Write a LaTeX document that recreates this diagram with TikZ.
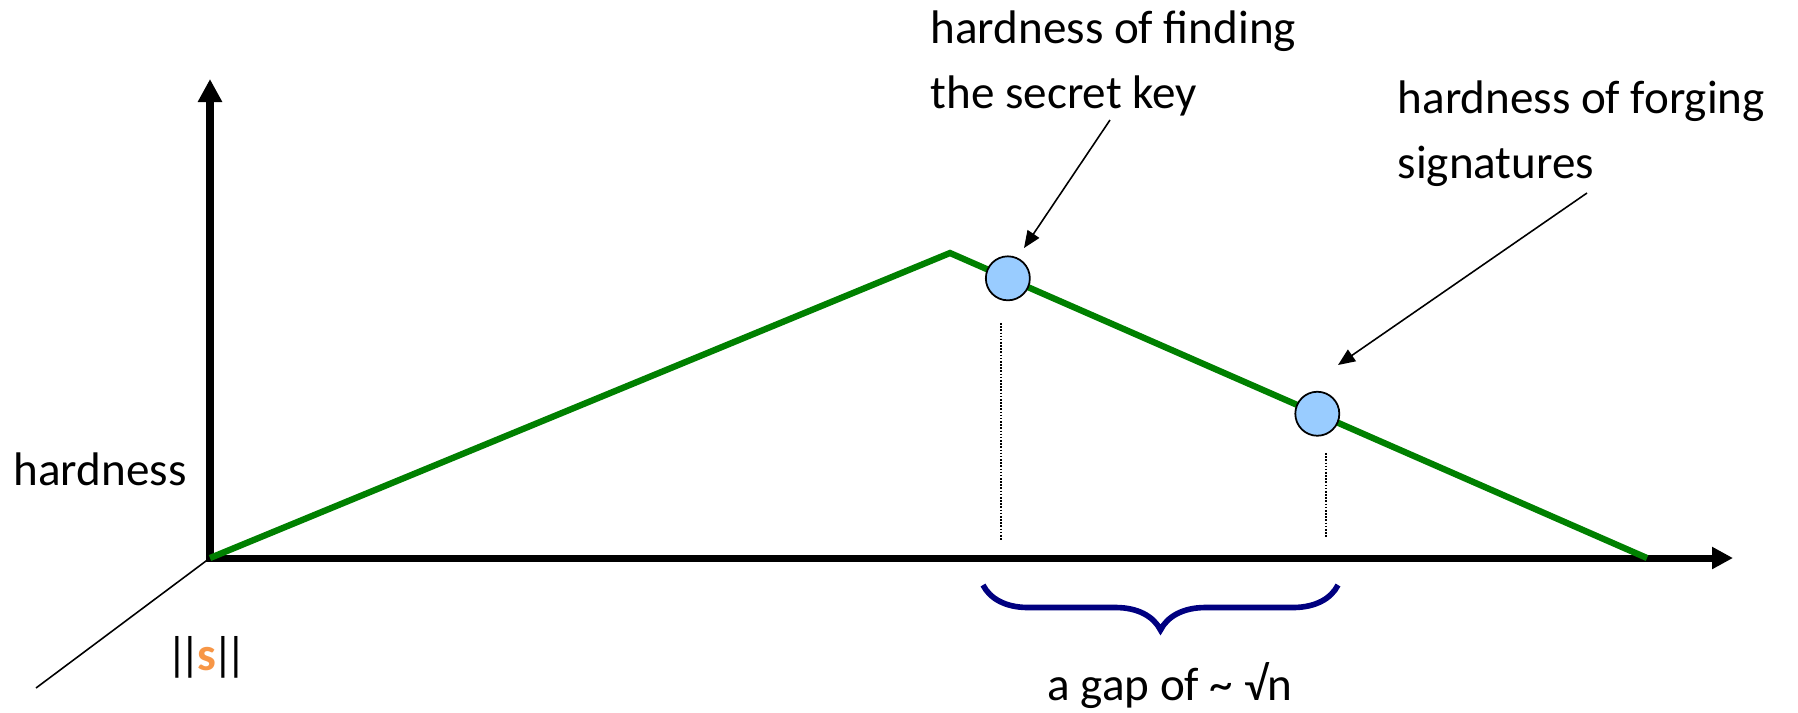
\documentclass[tikz,border=0pt]{standalone}
\usepackage{fontspec}
\setmainfont{Carlito}
\usetikzlibrary{arrows.meta, calc, decorations.pathreplacing, positioning}
\definecolor{ridgegreen}{RGB}{0,128,0}
\definecolor{probeblue}{RGB}{153,204,255}
\definecolor{bracenavy}{RGB}{0,0,128}
\definecolor{normorange}{RGB}{247,150,70}
\newcommand{\normbar}{\makebox[0.13cm]{|}}
\tikzset{
  axis/.style={line width=2pt, {Triangle[length=0.23cm,width=0.23cm]}-{Triangle[length=0.21cm,width=0.21cm]}},
  ridge/.style={line width=1.8pt, draw=ridgegreen},
  probe/.style={circle, draw=black, line width=0.5pt, fill=probeblue, minimum size=0.44cm, inner sep=0pt},
  guide/.style={line width=0.45pt, dash pattern=on 0.45pt off 0.45pt},
  pointer/.style={line width=0.45pt, -{Triangle[length=0.17cm,width=0.14cm]}},
  note/.style={align=left, inner sep=0pt, anchor=north west},
  gapbrace/.style={decorate, decoration={brace, mirror, amplitude=0.45cm}, draw=bracenavy, line width=1.6pt}
}

\begin{document}
\begin{tikzpicture}[font=\fontsize{13.4pt}{18.5pt}\selectfont]

    \useasboundingbox (0,0) rectangle (17.98,-7.12);

    % Ejes
    \coordinate (O) at (2.10,-5.58);
    \coordinate (ytop) at (2.10,-0.79);
    \coordinate (xend) at (17.33,-5.58);
    \coordinate (zend) at (0.36,-6.88);
    \draw[line width=0.45pt] (O) -- (zend);
    \draw[axis] (ytop) -- (O) -- (xend);

    % Curva de dureza
    \coordinate (peak) at (9.50,-2.53);
    \coordinate (tail) at (16.47,-5.58);
    \draw[ridge] (O) -- (peak) -- (tail);

    % Puntos sobre la curva
    \node[probe] (key) at ($(peak)!0.083!(tail)$) {};
    \node[probe] (forge) at ($(peak)!0.527!(tail)$) {};

    % Guias punteadas
    \coordinate (keytop) at (10.01,-3.23);
    \coordinate (keybot) at (10.01,-5.40);
    \coordinate (forgetop) at (13.26,-4.53);
    \coordinate (forgebot) at (13.26,-5.38);
    \draw[guide] (keytop) -- (keybot);
    \draw[guide] (forgetop) -- (forgebot);

    % Llave de la brecha
    \coordinate (gapL) at (9.83,-5.85);
    \coordinate (gapR) at (13.38,-5.85);
    \draw[gapbrace] (gapL) -- (gapR);
    \node[anchor=base, inner sep=0pt] (gaplabel) at (11.70,-7.00) {a gap of \textasciitilde{} √n};

    % Etiquetas de los ejes
    \node[anchor=base west, inner sep=0pt] (ylabel) at (0.13,-4.85) {hardness};
    \node[anchor=base west, inner sep=0pt] (xlabel) at (1.705,-6.70)
        {\normbar\normbar\makebox[0.20cm]{\textcolor{normorange}{\textbf{s}}}\normbar\normbar};

    % Anotaciones
    \node[note] (keynote) at (9.30,-0.10) {hardness of finding\\the secret key};
    \node[note] (forgenote) at (13.97,-0.80) {hardness of forging\\signatures};
    \coordinate (keyfrom) at (11.10,-1.20);
    \coordinate (keyto) at (10.24,-2.48);
    \coordinate (forgefrom) at (15.87,-1.93);
    \coordinate (forgeto) at (13.38,-3.65);
    \draw[pointer] (keyfrom) -- (keyto);
    \draw[pointer] (forgefrom) -- (forgeto);

\end{tikzpicture}
\end{document}
